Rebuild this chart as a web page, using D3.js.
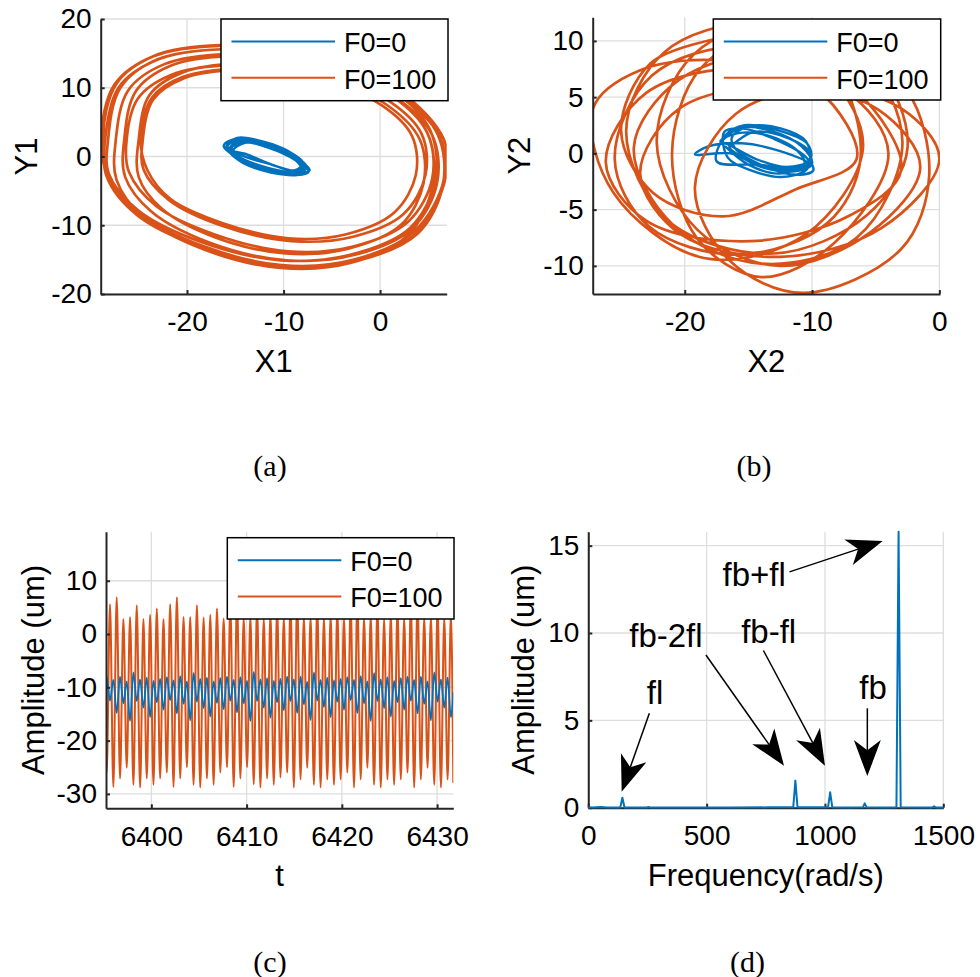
<!DOCTYPE html>
<html>
<head>
<meta charset="utf-8">
<script src="https://cdn.jsdelivr.net/npm/d3@7"></script>
<style>
  body { margin: 0; background: #fff; }
</style>
</head>
<body>
<svg id="fig" width="980" height="977"></svg>
<script>
// ---------------- Data ----------------
// (a) rotor orbit X1/Y1, without force (F0=0) and with force (F0=100)
const orbitA_F0 = [
  [-16.0,1.3],[-15.0,2.4],[-12.5,2.2],[-9.8,0.8],[-7.6,-1.5],[-8.6,-2.6],[-11.2,-2.0],[-14.2,-0.4],
  [-15.6,1.0],[-14.3,2.6],[-11.8,2.0],[-9.2,0.5],[-7.9,-1.9],[-9.0,-2.3],[-11.8,-1.6],[-14.8,0.1],
  [-15.8,1.6],[-14.6,2.2],[-12.0,1.7],[-9.0,0.0],[-7.3,-2.0],[-8.2,-2.3],[-10.8,-1.4],[-14.0,0.4],
  [-15.2,0.9],[-14.0,2.0],[-11.4,1.6],[-9.4,0.2],[-8.2,-1.7],[-9.4,-2.6],[-12.0,-2.1],[-14.6,-0.6],
  [-15.9,1.4],[-14.8,2.7],[-12.8,2.4],[-10.0,1.1],[-8.0,-0.9],[-8.8,-2.0],[-11.4,-1.1],[-14.4,0.2],
  [-15.4,1.2],[-14.2,2.1],[-11.6,1.3],[-8.8,-0.5],[-7.4,-2.2],[-8.6,-2.7],[-11.2,-2.3],[-14.0,-0.8],
  [-16.2,1.5],[-15.2,2.5],[-12.4,2.0],[-9.6,0.6],[-7.8,-1.2],[-8.8,-2.2],[-11.6,-1.8],[-14.6,-0.2],
  [-15.8,1.2]
];
const orbitA_F100 = [
  [-7.5,14.8],[1.6,9.3],[6.2,2.8],[6.6,-3.4],[3.6,-10.8],[-2.7,-15.0],[-10.2,-15.8],[-18.4,-13.0],[-25.0,-8.3],[-28.1,-3.1],
  [-28.9,2.5],[-27.5,10.5],[-23.5,14.6],[-16.5,16.2],[-7.0,15.0],[2.0,9.5],[6.6,2.5],[6.8,-3.0],[3.8,-11.1],[-2.5,-15.2],[-10.0,-16.0],[-18.5,-13.2],[-25.2,-8.5],[-28.3,-3.0],
  [-28.5,2.2],[-27.1,10.0],[-23.2,14.0],[-16.3,15.6],[-6.8,14.4],[2.1,9.0],[6.0,3.1],[6.5,-4.2],[3.9,-11.2],[-2.4,-15.2],[-9.8,-16.0],[-18.2,-13.2],[-24.9,-8.6],[-27.9,-3.2],
  [-28.7,2.8],[-27.3,10.6],[-23.4,14.6],[-16.6,16.1],[-7.4,15.0],[1.3,9.6],[5.2,3.8],[5.7,-3.5],[3.1,-10.4],[-3.1,-14.3],[-10.3,-15.1],[-18.6,-12.4],[-25.1,-7.8],[-28.1,-2.5],
  [-28.2,2.1],[-26.9,10.0],[-23.1,14.1],[-16.4,15.6],[-7.4,14.5],[1.2,9.0],[5.0,3.1],[5.4,-4.4],[2.9,-11.4],[-3.1,-15.5],[-10.3,-16.2],[-18.3,-13.5],[-24.6,-8.7],[-27.3,-3.4],
  [-27.4,2.1],[-26.1,9.6],[-22.4,13.4],[-15.8,14.9],[-6.8,13.8],[1.6,8.6],[5.4,3.1],[5.9,-3.9],[3.3,-10.5],[-2.6,-14.3],[-9.7,-15.1],[-17.7,-12.5],[-23.7,-8.0],[-26.4,-3.0],
  [-26.5,2.5],[-25.3,9.5],[-21.7,13.2],[-15.4,14.6],[-6.8,13.5],[1.3,8.7],[4.9,3.4],[5.4,-3.2],[2.9,-9.5],[-2.8,-13.1],[-9.5,-13.8],[-17.2,-11.3],[-23.2,-7.2],[-26.0,-2.3],
  [-26.3,1.6],[-25.1,8.4],[-21.6,11.9],[-15.5,13.3],[-7.2,12.3],[0.6,7.6],[4.1,2.5],[4.5,-3.9],[2.2,-9.9],[-3.3,-13.4],[-9.8,-14.1],[-17.2,-11.7],[-22.6,-7.6],[-25.0,-3.0],
  [-25.0,2.5],[-23.9,8.9],[-20.5,12.2],[-14.6,13.5],[-6.6,12.5],[0.9,8.1],[4.3,3.3],[4.7,-2.7],[2.4,-8.4],[-2.9,-11.7],[-9.2,-12.3],[-16.3,-10.1],[-21.9,-6.3],[-24.5,-1.9],
  [-24.6,2.2],[-23.5,8.3],[-20.3,11.4],[-14.7,12.6],[-7.1,11.7],[0.1,7.5],[3.3,3.0],[3.7,-2.7],[1.5,-8.1],[-3.5,-11.3],[-9.5,-11.9],[-16.3,-9.7],[-21.7,-6.2],[-24.1,-2.0],
  [-24.8,2.6],[-23.6,8.6],[-20.4,11.6],[-14.5,12.8],[-7.0,12.0]
];

// (b) orbit X2/Y2
const orbitB_F0 = [
  [-17.0,1.2],[-15.6,2.3],[-13.2,2.0],[-10.8,0.6],[-10.0,-0.9],[-11.4,-1.6],[-14.0,-1.2],[-16.4,0.0],
  [-19.2,-0.1],[-18.2,0.6],[-15.5,0.9],[-12.5,0.2],[-10.3,-0.9],[-11.3,-1.4],[-14.2,-1.0],[-17.5,-0.7],
  [-16.8,1.6],[-15.3,2.5],[-12.8,2.1],[-10.4,0.9],[-10.1,-0.4],[-11.8,-1.4],[-14.6,-0.8],[-16.5,0.6],
  [-16.0,1.0],[-14.6,1.9],[-12.0,1.4],[-10.2,0.1],[-10.4,-1.4],[-12.4,-2.1],[-14.8,-1.5],[-16.6,-0.4],
  [-16.9,1.9],[-15.4,2.2],[-13.0,1.3],[-10.6,-0.2],[-9.9,-1.5],[-11.2,-1.9],[-13.6,-1.2],[-16.0,0.4],
  [-16.3,1.4],[-15.0,2.4],[-12.4,2.2],[-10.5,1.1],[-10.2,-0.6],[-12.0,-1.2],[-14.4,-0.5],[-16.6,0.8],
  [-17.2,1.1],[-15.8,1.8],[-13.5,1.6],[-11.2,0.3],[-10.6,-1.0],[-12.6,-1.8],[-15.0,-1.0],[-16.8,0.6]
];
const orbitB_F100 = [
  [-17.0,10.3],[-22.7,8.0],[-25.0,2.0],[-22.5,-3.5],[-17.0,-5.6],[-11.3,-3.2],
  [-6.5,-0.5],[-9.5,5.6],[-16.5,8.2],[-23.5,7.4],[-27.2,4.0],[-25.6,-3.5],[-18.5,-9.3],[-10.5,-7.2],
  [-6.0,0.5],[-8.7,6.8],[-15.5,9.5],[-22.6,6.9],[-25.5,-0.5],[-22.8,-6.5],[-15.8,-9.0],[-8.8,-6.2],
  [-6.2,-0.5],[-8.2,7.4],[-13.5,10.6],[-18.8,7.5],[-21.0,0.0],[-19.0,-7.6],[-14.0,-11.0],[-8.3,-8.0],
  [-4.0,0.0],[-7.3,5.5],[-15.0,7.6],[-23.0,5.4],[-26.2,-0.8],[-23.0,-6.0],[-14.8,-7.8],[-7.0,-5.5],
  [-3.0,-1.5],[-6.5,5.5],[-13.0,8.8],[-20.5,6.5],[-24.0,0.5],[-20.8,-6.5],[-14.0,-9.8],[-6.5,-7.5],
  [-2.9,1.0],[-6.2,8.6],[-14.5,11.6],[-21.6,9.0],[-24.6,2.0],[-21.3,-6.0],[-13.0,-8.9],[-5.7,-5.5],
  [-2.5,0.5],[-5.2,8.2],[-12.0,11.8],[-19.3,8.8],[-22.2,1.0],[-19.0,-6.8],[-12.5,-10.0],[-5.4,-7.0],
  [-1.5,-1.2],[-4.8,3.9],[-12.0,6.0],[-20.4,4.0],[-23.5,-1.8],[-20.3,-7.2],[-12.5,-9.2],[-4.5,-6.6],
  [0.0,-0.5],[-3.0,4.0],[-9.5,5.8],[-16.0,3.5],[-19.2,-3.0],[-16.5,-9.5],[-10.7,-12.4],[-3.0,-8.5],
  [-0.8,-2.0],[-2.5,5.5],[-7.0,9.0]
];

// (c) time response: successive maxima / minima of each signal (um)
const tFirst = 6395.24, tLast = 6431.70;     // visible time window
const tCycleStart = 6395.31, tCycle = 0.7018; // time of first trough and sampling period of the extrema
const respF100Start = -21.6, respF100End = -27.8;
const respF100Troughs = [
  -26.0,-28.7,-27.1,-25.1,-28.3,-28.8,-27.1,-28.3,-27.1,
  -26.0,-28.7,-27.1,-25.0,-28.3,-28.8,-27.1,-28.3,-26.0,
  -25.0,-28.7,-27.1,-25.0,-28.2,-28.8,-27.1,-28.3,-26.9,
  -26.0,-28.8,-27.3,-25.1,-28.3,-28.8,-27.3,-28.3,-27.3,
  -26.0,-28.8,-27.3,-25.1,-28.3,-28.8,-27.3,-28.3,-27.3,
  -26.0,-28.8,-27.3,-25.1,-28.3,-28.8,-27.3
];
const respF100Peaks = [
  5.6,6.9,2.8,3.2,5.4,2.8,3.6,4.8,2.8,
  5.6,6.9,3.2,3.2,5.4,3.1,3.6,4.8,2.9,
  5.5,6.8,3.0,3.3,5.3,2.9,3.7,4.9,3.0,
  5.7,6.7,3.1,3.2,5.5,3.0,3.5,4.7,2.9,
  5.6,6.9,3.0,3.4,5.4,2.8,3.6,4.8,3.0,
  5.5,6.8,3.1,3.2,5.3,3.0,3.7
];
const respF0Start = -12.0, respF0End = -11.0;
const respF0Peaks = [
  -8.0,-8.6,-8.0,-8.9,-7.2,-8.5,-8.2,-8.8,-8.4,
  -8.1,-8.7,-7.9,-8.9,-7.3,-8.4,-8.2,-8.9,-8.3,
  -8.0,-8.6,-8.1,-8.8,-7.1,-8.5,-8.3,-8.8,-8.4,
  -8.0,-8.5,-8.0,-9.0,-7.2,-8.6,-8.2,-8.7,-8.4,
  -8.1,-8.6,-7.9,-8.9,-7.3,-8.5,-8.1,-8.8,-8.3,
  -8.0,-8.6,-8.0,-8.9,-7.2,-8.5,-8.2
];
const respF0Troughs = [
  -12.5,-14.8,-13.0,-16.3,-12.6,-13.8,-15.6,-12.8,-14.2,
  -12.4,-14.9,-13.1,-16.2,-12.7,-13.9,-15.5,-12.9,-14.1,
  -12.5,-14.7,-13.0,-16.3,-12.6,-13.8,-15.7,-12.8,-14.3,
  -12.6,-14.8,-13.2,-16.1,-12.5,-13.7,-15.6,-12.7,-14.2,
  -12.4,-14.8,-13.0,-16.3,-12.6,-13.9,-15.5,-12.8,-14.2,
  -12.5,-14.9,-13.1,-16.2,-12.7,-13.8,-15.6
];

// (d) amplitude spectrum
const specFreq = [0,20,52,80,135,144,153,200,246,254,262,400,600,760,866,875,884,1000,1013,1022,1031,1100,1160,1168,1176,1250,1302,1311,1320,1400,1453,1461,1469,1500];
const specAmp  = [0.02,0.01,0.04,0.01,0.01,0.57,0.01,0.01,0.01,0.04,0.01,0.01,0.01,0.02,0.02,1.55,0.02,0.02,0.02,0.88,0.02,0.01,0.02,0.25,0.02,0.01,0.02,15.8,0.02,0.01,0.01,0.08,0.01,0.01];
const specLabels = ['fb+fl','fb-2fl','fb-fl','fb','fl'];
// label anchor [freq, amp], arrow tail [freq, amp], arrow tip [freq, amp]
const specLabelPos = [[701,12.69],[328,9.22],[762,9.44],[1203,6.22],[282,5.94]];
const specArrowTail = [[850,13.5],[497,8.74],[740,9.0],[1179,5.69],[258,5.4]];
const specArrowTip  = [[1244,15.27],[827,2.4],[1000,2.4],[1179,1.81],[141,0.92]];

const legendLabels = ['F0=0','F0=100'];

// ---------------- Styles ----------------
const FONT = "'Liberation Sans', Arial, Helvetica, sans-serif";
const SERIF = "'Liberation Serif', 'Times New Roman', serif";
const BLUE = '#0072BD', ORANGE = '#D95319', AXIS = '#262626', GRID = '#dedede';
const TICK_FS = 28, LABEL_FS = 31, LEGEND_FS = 27, NOTE_FS = 33, CAPTION_FS = 30;

const svg = d3.select('#fig');
svg.append('rect').attr('width', 980).attr('height', 977).attr('fill', '#fff');

function makePanel(cfg) {
  const x = d3.scaleLinear().domain(cfg.xDomain).range([cfg.left, cfg.right]);
  const y = d3.scaleLinear().domain(cfg.yDomain).range([cfg.bottom, cfg.top]);
  const g = svg.append('g').attr('class', 'panel-' + cfg.id);
  g.append('clipPath').attr('id', cfg.id + '-clip').append('rect')
    .attr('x', cfg.left).attr('y', cfg.top - 1)
    .attr('width', cfg.right - cfg.left).attr('height', cfg.bottom - cfg.top + 2);
  const grid = g.append('g').attr('stroke', GRID).attr('stroke-width', 1.3);
  grid.selectAll('line.gx').data(cfg.xTicks).join('line').attr('class', 'gx')
    .attr('x1', d => x(d)).attr('x2', d => x(d)).attr('y1', cfg.top).attr('y2', cfg.bottom);
  grid.selectAll('line.gy').data(cfg.yTicks).join('line').attr('class', 'gy')
    .attr('y1', d => y(d)).attr('y2', d => y(d)).attr('x1', cfg.left).attr('x2', cfg.right);
  const plot = g.append('g').attr('clip-path', `url(#${cfg.id}-clip)`);
  return { x, y, g, plot, cfg };
}

function drawAxes(p) {
  const { x, y, g, cfg } = p;
  const fmt = d => String(d);
  const bx = g.append('g').attr('transform', `translate(0,${cfg.bottom})`)
    .call(d3.axisBottom(x).tickValues(cfg.xTicks).tickSize(-4).tickSizeOuter(0).tickPadding(17.5).tickFormat(fmt));
  const ly = g.append('g').attr('transform', `translate(${cfg.left},0)`)
    .call(d3.axisLeft(y).tickValues(cfg.yTicks).tickSize(-4).tickSizeOuter(0).tickPadding(9).tickFormat(fmt));
  [bx, ly].forEach(a => {
    a.attr('font-family', FONT).attr('font-size', TICK_FS);
    a.select('.domain').attr('stroke', AXIS).attr('stroke-width', 2);
    a.selectAll('.tick line').attr('stroke', AXIS).attr('stroke-width', 2);
    a.selectAll('.tick text').attr('fill', '#000');
  });
  g.append('text').attr('x', (cfg.left + cfg.right) / 2).attr('y', cfg.bottom + 78)
    .attr('text-anchor', 'middle').attr('font-family', FONT).attr('font-size', LABEL_FS)
    .attr('fill', '#000').text(cfg.xLabel);
  g.append('text')
    .attr('transform', `translate(${cfg.yLabelX},${(cfg.top + cfg.bottom) / 2}) rotate(-90)`)
    .attr('text-anchor', 'middle').attr('font-family', FONT).attr('font-size', LABEL_FS)
    .attr('fill', '#000').text(cfg.yLabel);
  svg.append('text').attr('x', cfg.captionX).attr('y', cfg.captionY)
    .attr('text-anchor', 'middle').attr('font-family', SERIF).attr('font-size', CAPTION_FS)
    .attr('fill', '#000').text(cfg.caption);
}

function drawLegend(p, box) {
  const g = p.g.append('g').attr('transform', `translate(${box.x},${box.y})`);
  g.append('rect').attr('width', box.w).attr('height', box.h)
    .attr('fill', '#fff').attr('stroke', '#000').attr('stroke-width', 1.5);
  const colors = [BLUE, ORANGE];
  const rows = [22.6, 58.8];
  legendLabels.forEach((lab, i) => {
    g.append('line').attr('x1', 10.5).attr('x2', 114).attr('y1', rows[i]).attr('y2', rows[i])
      .attr('stroke', colors[i]).attr('stroke-width', 2);
    g.append('text').attr('x', 123).attr('y', rows[i] + 10.7)
      .attr('font-family', FONT).attr('font-size', LEGEND_FS).attr('fill', '#000').text(lab);
  });
}

function pathOf(p, pts, curve, color, width) {
  const line = d3.line().x(d => p.x(d[0])).y(d => p.y(d[1])).curve(curve);
  p.plot.append('path').datum(pts).attr('d', line)
    .attr('fill', 'none').attr('stroke', color).attr('stroke-width', width)
    .attr('stroke-linejoin', 'round').attr('stroke-linecap', 'round');
}

// ---------------- (a) ----------------
const pA = makePanel({
  id: 'a', left: 100.7, right: 446.7, top: 19, bottom: 294,
  xDomain: [-28.94, 6.9], yDomain: [-20, 20],
  xTicks: [-20, -10, 0], yTicks: [-20, -10, 0, 10, 20],
  xLabel: 'X1', yLabel: 'Y1', yLabelX: 36.7, caption: '(a)', captionX: 270, captionY: 476
});
pathOf(pA, orbitA_F0, d3.curveCatmullRom.alpha(0.5), BLUE, 2.4);
pathOf(pA, orbitA_F100, d3.curveCatmullRom.alpha(0.5), ORANGE, 2.7);
drawAxes(pA);
drawLegend(pA, { x: 221, y: 19, w: 227, h: 81.7 });

// ---------------- (b) ----------------
const pB = makePanel({
  id: 'b', left: 592.7, right: 940, top: 17.3, bottom: 294,
  xDomain: [-27.23, 0.05], yDomain: [-12.5, 12.1],
  xTicks: [-20, -10, 0], yTicks: [-10, -5, 0, 5, 10],
  xLabel: 'X2', yLabel: 'Y2', yLabelX: 530, caption: '(b)', captionX: 754, captionY: 476
});
pathOf(pB, orbitB_F0, d3.curveCatmullRom.alpha(0.5), BLUE, 2.4);
pathOf(pB, orbitB_F100, d3.curveCatmullRom.alpha(0.5), ORANGE, 2.7);
drawAxes(pB);
drawLegend(pB, { x: 713.3, y: 19, w: 227.4, h: 81 });

// ---------------- (c) ----------------
const pC = makePanel({
  id: 'c', left: 106, right: 453.3, top: 531.7, bottom: 808.3,
  xDomain: [tFirst, tLast], yDomain: [-32.7, 19.2],
  xTicks: [6400, 6410, 6420, 6430], yTicks: [-30, -20, -10, 0, 10],
  xLabel: 't', yLabel: 'Amplitude (um)', yLabelX: 43.7, caption: '(c)', captionX: 270, captionY: 972
});
// rebuild each signal from its alternating extrema on the sampling grid
const seriesF100 = [[tFirst, respF100Start]];
respF100Troughs.forEach((v, i) => {
  seriesF100.push([tCycleStart + i * tCycle, v]);
  seriesF100.push([tCycleStart + tCycle / 2 + i * tCycle, respF100Peaks[i]]);
});
seriesF100.push([tLast, respF100End]);
const seriesF0 = [[tFirst, respF0Start]];
respF0Peaks.forEach((v, i) => {
  seriesF0.push([tCycleStart + i * tCycle, v]);
  seriesF0.push([tCycleStart + tCycle / 2 + i * tCycle, respF0Troughs[i]]);
});
seriesF0.push([tLast, respF0End]);
pathOf(pC, seriesF100, d3.curveMonotoneX, ORANGE, 2);
pathOf(pC, seriesF0, d3.curveMonotoneX, BLUE, 1.8);
drawAxes(pC);
drawLegend(pC, { x: 227.3, y: 537.7, w: 226.7, h: 81.3 });

// ---------------- (d) ----------------
const pD = makePanel({
  id: 'd', left: 588.3, right: 943.3, top: 531.7, bottom: 807.7,
  xDomain: [0, 1500], yDomain: [0, 15.8],
  xTicks: [0, 500, 1000, 1500], yTicks: [0, 5, 10, 15],
  xLabel: 'Frequency(rad/s)', yLabel: 'Amplitude (um)', yLabelX: 533.7, caption: '(d)', captionX: 747.5, captionY: 972
});
drawAxes(pD);
const spectrum = specFreq.map((f, i) => [f, specAmp[i]]);
pD.g.append('path').datum(spectrum)
  .attr('d', d3.line().x(d => pD.x(d[0])).y(d => pD.y(d[1])))
  .attr('fill', 'none').attr('stroke', BLUE).attr('stroke-width', 2).attr('stroke-linejoin', 'round');

// labelled arrows
const HEAD_L = 36, HEAD_W = 27;
specLabels.forEach((lab, i) => {
  const tx = pD.x(specArrowTail[i][0]), ty = pD.y(specArrowTail[i][1]);
  const hx = pD.x(specArrowTip[i][0]), hy = pD.y(specArrowTip[i][1]);
  const len = Math.hypot(hx - tx, hy - ty);
  const ux = (hx - tx) / len, uy = (hy - ty) / len;
  const nx = -uy, ny = ux;
  const bx = hx - ux * HEAD_L, by = hy - uy * HEAD_L;
  const mx = hx - ux * HEAD_L * 0.72, my = hy - uy * HEAD_L * 0.72;
  pD.g.append('line').attr('x1', tx).attr('y1', ty).attr('x2', mx).attr('y2', my)
    .attr('stroke', '#000').attr('stroke-width', 1.5);
  pD.g.append('path')
    .attr('d', `M${hx},${hy}L${bx + nx * HEAD_W / 2},${by + ny * HEAD_W / 2}L${mx},${my}L${bx - nx * HEAD_W / 2},${by - ny * HEAD_W / 2}Z`)
    .attr('fill', '#000');
  pD.g.append('text').attr('x', pD.x(specLabelPos[i][0])).attr('y', pD.y(specLabelPos[i][1]))
    .attr('text-anchor', 'middle').attr('font-family', FONT).attr('font-size', NOTE_FS)
    .attr('fill', '#000').text(lab);
});
</script>
</body>
</html>
